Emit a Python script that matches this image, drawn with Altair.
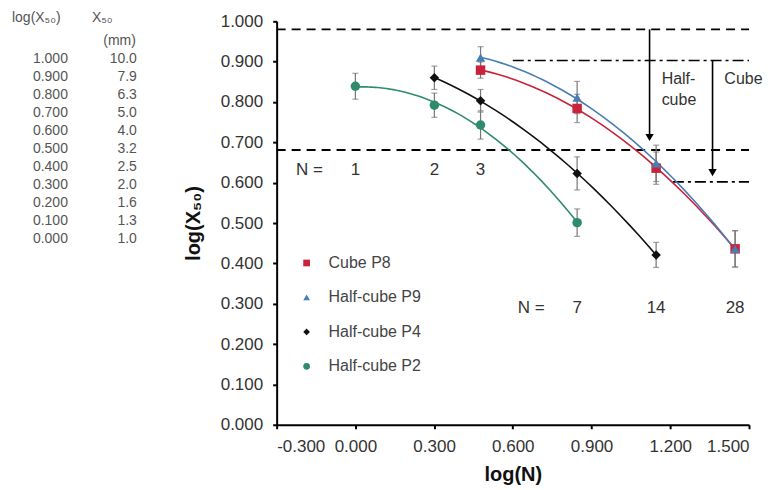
import altair as alt
import pandas as pd

FONT = "Liberation Sans"

SERIES = ["Cube P8", "Half-cube P9", "Half-cube P4", "Half-cube P2"]
COLORS = ["#c8233a", "#4a7db3", "#111111", "#2e8b6b"]
SHAPES = ["square", "triangle-up", "diamond", "circle"]

# log(N) positions and log(X50) values
LOGN_P8 = [0.477, 0.845, 1.146, 1.447]
LOGX_P8 = [0.879, 0.784, 0.636, 0.436]
ERR_P8 = [0.020, 0.035, 0.040, 0.045]

LOGN_P9 = [0.477, 0.845, 1.146, 1.447]
LOGX_P9 = [0.910, 0.811, 0.648, 0.436]
ERR_P9 = [0.027, 0.040, 0.045, 0.045]

LOGN_P4 = [0.301, 0.477, 0.845, 1.146]
LOGX_P4 = [0.860, 0.803, 0.623, 0.421]
ERR_P4 = [0.029, 0.028, 0.041, 0.031]

LOGN_P2 = [0.000, 0.301, 0.477, 0.845]
LOGX_P2 = [0.839, 0.792, 0.743, 0.501]
ERR_P2 = [0.032, 0.030, 0.035, 0.034]

# N labels
N_TOP = ["N =", "1", "2", "3"]
N_TOP_X = [-0.175, 0.000, 0.301, 0.477]
N_TOP_Y = 0.631
N_BOTTOM = ["N =", "7", "14", "28"]
N_BOTTOM_X = [0.670, 0.845, 1.146, 1.447]
N_BOTTOM_Y = 0.290

# limit lines
DASHED_Y = [0.980, 0.681]
DASHDOT_Y = [0.903, 0.602]
DASHDOT_START = [0.60, 1.21]
ARROW_X = [1.121, 1.361]
ARROW_TOP = [0.980, 0.903]
ARROW_END = [0.712, 0.625]

# conversion table on the left
TABLE_LOG = [1.000, 0.900, 0.800, 0.700, 0.600, 0.500, 0.400, 0.300, 0.200, 0.100, 0.000]
TABLE_MM = [10.0, 7.9, 6.3, 5.0, 4.0, 3.2, 2.5, 2.0, 1.6, 1.3, 1.0]

Y_TITLE = "log(X\u2085\u2080)"

rows = []
for name, xs, ys, es in [
    ("Cube P8", LOGN_P8, LOGX_P8, ERR_P8),
    ("Half-cube P9", LOGN_P9, LOGX_P9, ERR_P9),
    ("Half-cube P4", LOGN_P4, LOGX_P4, ERR_P4),
    ("Half-cube P2", LOGN_P2, LOGX_P2, ERR_P2),
]:
    for x, y, e in zip(xs, ys, es):
        rows.append({"series": name, "logN": x, "logX": y, "lo": y - e, "hi": y + e})
points = pd.DataFrame(rows)

XS = alt.Scale(domain=[-0.3, 1.5], nice=False, zero=False)
YS = alt.Scale(domain=[0, 1], nice=False, zero=False)
AX_X = alt.Axis(
    values=[-0.3, 0.0, 0.3, 0.6, 0.9, 1.2, 1.5],
    labelExpr="replace(format(datum.value, '.3f'), '\u2212', '-')",
    title="log(N)",
    grid=False,
)
AX_Y = alt.Axis(
    values=TABLE_LOG,
    format=".3f",
    title=Y_TITLE,
    grid=False,
)


def xq(field):
    return alt.X(f"{field}:Q", scale=XS, axis=AX_X)


def yq(field):
    return alt.Y(f"{field}:Q", scale=YS, axis=AX_Y)


color_scale = alt.Scale(domain=SERIES, range=COLORS)
shape_scale = alt.Scale(domain=SERIES, range=SHAPES)
legend = alt.Legend(
    orient="none", legendX=22, legendY=234, title=None,
    symbolSize=45, symbolStrokeWidth=0, labelFontSize=16, labelColor="#444",
    labelFont=FONT, rowPadding=18.5, labelOffset=14,
)

dashed = (
    alt.Chart(pd.DataFrame({"y": DASHED_Y, "x0": [-0.3] * 2, "x1": [1.5] * 2}))
    .mark_rule(color="black", strokeWidth=1.8, strokeDash=[9, 6])
    .encode(x=xq("x0"), x2="x1", y=yq("y"))
)
dashdot = (
    alt.Chart(pd.DataFrame({"y": DASHDOT_Y, "x0": DASHDOT_START, "x1": [1.5] * 2}))
    .mark_rule(color="black", strokeWidth=1.6, strokeDash=[11, 4, 3, 4])
    .encode(x=xq("x0"), x2="x1", y=yq("y"))
)
arrow_df = pd.DataFrame({"x": ARROW_X, "y0": ARROW_TOP, "y1": ARROW_END})
shafts = (
    alt.Chart(arrow_df)
    .mark_rule(color="black", strokeWidth=1.6)
    .encode(x=xq("x"), y=yq("y0"), y2="y1")
)
heads = (
    alt.Chart(arrow_df)
    .mark_point(shape="triangle-down", filled=True, color="black", size=70, opacity=1)
    .encode(x=xq("x"), y=yq("y1"))
)

fits = (
    alt.Chart(points)
    .transform_regression("logN", "logX", groupby=["series"], method="poly", order=2)
    .mark_line(strokeWidth=1.6)
    .encode(
        x=xq("logN"), y=yq("logX"),
        color=alt.Color("series:N", scale=color_scale, legend=legend),
    )
)
errbars = (
    alt.Chart(points)
    .mark_errorbar(ticks={"size": 6}, color="#777777", thickness=1.2)
    .encode(x=xq("logN"), y=yq("lo"), y2="hi")
)
markers = (
    alt.Chart(points)
    .mark_point(filled=True, size=90, opacity=1)
    .encode(
        x=xq("logN"), y=yq("logX"),
        color=alt.Color("series:N", scale=color_scale, legend=legend),
        shape=alt.Shape("series:N", scale=shape_scale, legend=legend),
    )
)

n_df = pd.DataFrame({
    "x": N_TOP_X + N_BOTTOM_X,
    "y": [N_TOP_Y] * len(N_TOP) + [N_BOTTOM_Y] * len(N_BOTTOM),
    "t": N_TOP + N_BOTTOM,
})
n_text = (
    alt.Chart(n_df)
    .mark_text(font=FONT, fontSize=17, color="#333")
    .encode(x=xq("x"), y=yq("y"), text="t:N")
)
lab_df = pd.DataFrame({"x": [1.167, 1.167, 1.406], "y": [0.856, 0.806, 0.856],
                       "t": ["Half-", "cube", "Cube"]})
lab_text = (
    alt.Chart(lab_df)
    .mark_text(font=FONT, fontSize=16, color="#333", align="left")
    .encode(x=xq("x"), y=yq("y"), text="t:N")
)

one = pd.DataFrame({"k": [0]})


def note(text, x, y, align, size=14, line_height=18, baseline="middle"):
    return (
        alt.Chart(one)
        .mark_text(text=text, font=FONT, fontSize=size, color="#555", align=align,
                   baseline=baseline, lineHeight=line_height)
        .encode(x=alt.value(x), y=alt.value(y))
    )


table = [
    note("log(X\u2085\u2080)", -265, -3, "left", size=14),
    note("X\u2085\u2080", -185, -3, "left", size=14),
    note("(mm)", -141, 20, "right"),
    note([f"{v:.3f}" for v in TABLE_LOG], -209, 31, "right", baseline="top"),
    note([f"{v:.1f}" for v in TABLE_MM], -140, 31, "right", baseline="top"),
]

chart = (
    alt.layer(dashed, dashdot, fits, errbars, markers, shafts, heads, n_text, lab_text, *table)
    .properties(
        width=473, height=404,
        autosize=alt.AutoSizeParams(type="none"),
        padding={"left": 269, "top": 13, "right": 16, "bottom": 62},
    )
    .configure_view(stroke=None)
    .configure_axis(
        labelFont=FONT, labelFontSize=17, labelColor="#333",
        titleFont=FONT, titleFontSize=20, titleFontWeight="bold", titleColor="#111",
        domainColor="black", domainWidth=2, tickColor="black", tickWidth=2,
        tickSize=4, labelPadding=10,
    )
    .configure_axisY(titlePadding=17)
    .configure_axisX(titlePadding=10)
)

chart.save("out.html", embed_options={"renderer": "svg", "actions": False})
